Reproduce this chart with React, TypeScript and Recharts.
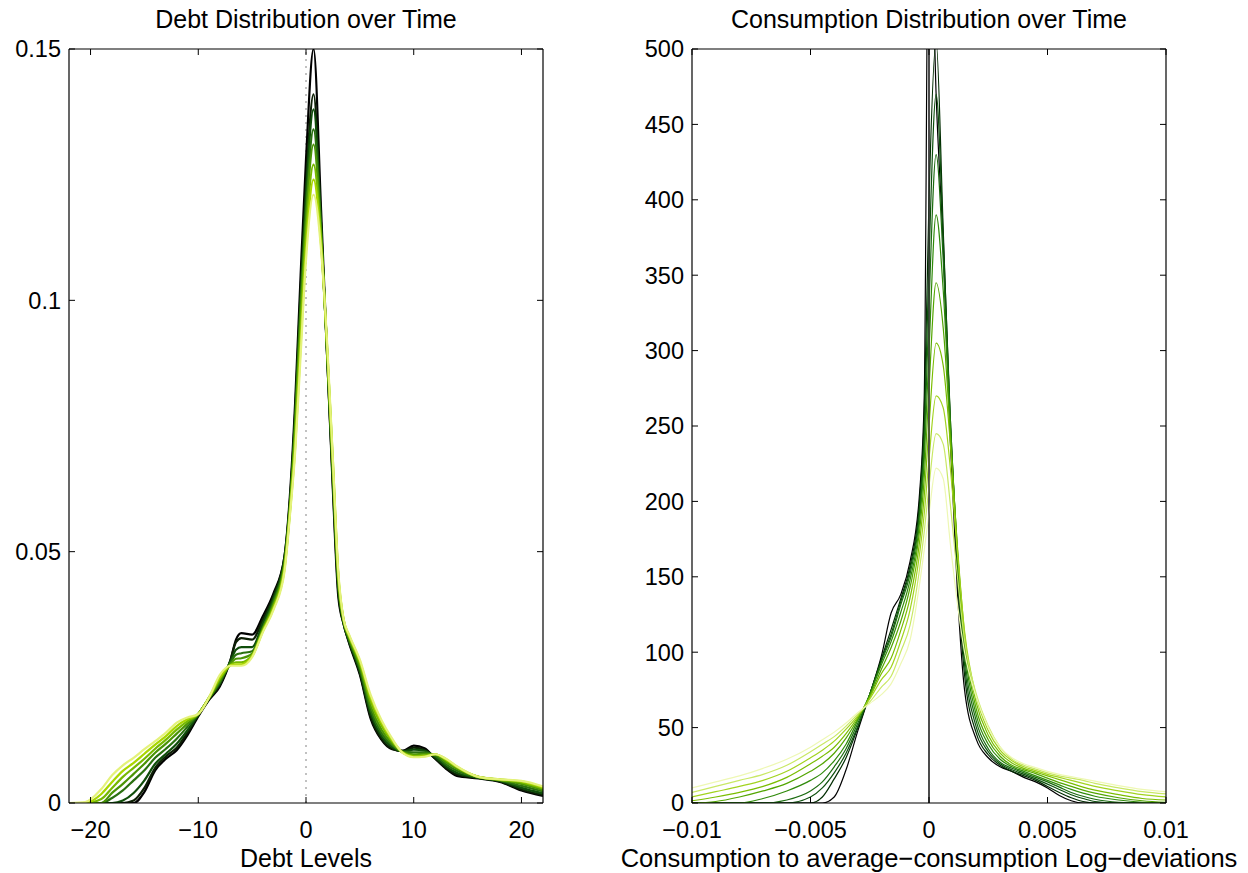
import React from 'react';
import { LineChart, Line, XAxis, YAxis, ReferenceLine } from 'recharts';

const FONT = '"Liberation Sans", Arial, Helvetica, sans-serif';

// ---------------- Debt panel data ----------------
const DEBT_X = [-22, -20.5, -19, -18, -17, -16, -15, -14, -13, -12, -11, -10, -9, -8, -7, -6.5, -6, -5, -4, -3, -2, -1.5, -1, -0.5, 0, 0.7, 1.4, 2, 2.5, 3, 3.5, 4, 5, 6, 7, 8, 9, 10, 11, 12, 13, 14, 16, 18, 20, 22];

const DEBT_T0 = [0, 0, 0, 0, 0, 0, 0.0022, 0.0065, 0.0088, 0.0105, 0.0135, 0.0172, 0.0205, 0.0232, 0.0285, 0.0325, 0.0338, 0.0335, 0.0372, 0.0418, 0.049, 0.061, 0.08, 0.105, 0.128, 0.150, 0.118, 0.087, 0.062, 0.041, 0.0355, 0.0318, 0.0255, 0.0168, 0.0126, 0.0107, 0.0104, 0.0114, 0.0109, 0.0088, 0.0068, 0.0054, 0.0049, 0.0042, 0.0025, 0.0014];
const DEBT_T1 = [0, 0, 0, 0, 0, 0.0005, 0.003, 0.007, 0.0093, 0.011, 0.014, 0.0175, 0.0207, 0.0235, 0.0285, 0.032, 0.0328, 0.0325, 0.0365, 0.0413, 0.049, 0.06, 0.078, 0.102, 0.123, 0.141, 0.115, 0.087, 0.063, 0.042, 0.0355, 0.032, 0.0258, 0.0172, 0.0128, 0.0108, 0.0103, 0.011, 0.0106, 0.0088, 0.007, 0.0057, 0.005, 0.0043, 0.0027, 0.0016];
const DEBT_T2 = [0, 0, 0, 0, 0.0005, 0.002, 0.0045, 0.0078, 0.0098, 0.0118, 0.0145, 0.0176, 0.0208, 0.0238, 0.0283, 0.0305, 0.031, 0.031, 0.0358, 0.0408, 0.0485, 0.0595, 0.077, 0.1, 0.121, 0.138, 0.115, 0.087, 0.064, 0.043, 0.0357, 0.0322, 0.0262, 0.0178, 0.0133, 0.0111, 0.0103, 0.0106, 0.0104, 0.0091, 0.0073, 0.006, 0.005, 0.0044, 0.003, 0.0019];
const DEBT_T3 = [0, 0, 0, 0.001, 0.0025, 0.0045, 0.0065, 0.009, 0.0108, 0.0128, 0.0152, 0.0177, 0.0208, 0.024, 0.028, 0.0295, 0.0298, 0.0302, 0.035, 0.0402, 0.048, 0.059, 0.076, 0.099, 0.118, 0.134, 0.114, 0.088, 0.065, 0.0435, 0.036, 0.0325, 0.0267, 0.0185, 0.0139, 0.0115, 0.0102, 0.0101, 0.0101, 0.0094, 0.0077, 0.0064, 0.0051, 0.0045, 0.0034, 0.0023];
const DEBT_T4 = [0, 0, 0, 0.002, 0.0038, 0.0058, 0.0078, 0.01, 0.0118, 0.0138, 0.0158, 0.0177, 0.0209, 0.0243, 0.0277, 0.0287, 0.0288, 0.0297, 0.0347, 0.0397, 0.0475, 0.0585, 0.075, 0.097, 0.116, 0.131, 0.113, 0.088, 0.066, 0.044, 0.0362, 0.0328, 0.0272, 0.0193, 0.0146, 0.0118, 0.0101, 0.0097, 0.0098, 0.0096, 0.0081, 0.0068, 0.0052, 0.0046, 0.0038, 0.0026];
const DEBT_T5 = [0, 0, 0.0008, 0.003, 0.0052, 0.007, 0.0088, 0.0108, 0.0126, 0.0146, 0.0163, 0.0177, 0.021, 0.0247, 0.0275, 0.028, 0.028, 0.0294, 0.0344, 0.0392, 0.047, 0.058, 0.073, 0.094, 0.113, 0.127, 0.112, 0.089, 0.067, 0.045, 0.0363, 0.0331, 0.0278, 0.0202, 0.0154, 0.0122, 0.01, 0.0094, 0.0095, 0.0097, 0.0085, 0.0071, 0.0052, 0.0046, 0.0041, 0.0029];
const DEBT_T6 = [0, 0, 0.0018, 0.0042, 0.0064, 0.008, 0.0098, 0.0116, 0.0133, 0.0153, 0.0167, 0.0177, 0.021, 0.025, 0.0274, 0.0276, 0.0276, 0.0292, 0.0342, 0.0388, 0.0465, 0.0575, 0.071, 0.091, 0.11, 0.124, 0.111, 0.089, 0.068, 0.0455, 0.0364, 0.0333, 0.0282, 0.021, 0.016, 0.0125, 0.01, 0.0092, 0.0093, 0.0097, 0.0087, 0.0072, 0.0052, 0.0047, 0.0043, 0.0031];
const DEBT_T7 = [0, 0.0002, 0.0028, 0.0055, 0.0075, 0.009, 0.0107, 0.0123, 0.014, 0.016, 0.017, 0.0177, 0.021, 0.0255, 0.0273, 0.0273, 0.0273, 0.029, 0.034, 0.0385, 0.046, 0.057, 0.07, 0.089, 0.108, 0.121, 0.11, 0.09, 0.068, 0.046, 0.0365, 0.0335, 0.0285, 0.0215, 0.0165, 0.0128, 0.0099, 0.0091, 0.0092, 0.0097, 0.0088, 0.0073, 0.0052, 0.0047, 0.0044, 0.0033];

const DEBT_SERIES = [DEBT_T0, DEBT_T1, DEBT_T2, DEBT_T3, DEBT_T4, DEBT_T5, DEBT_T6, DEBT_T7];
const DEBT_COLORS = ['#000000', '#0d1f05', '#0f4d0a', '#2a7010', '#4a9405', '#76b800', '#a9d600', '#e4f27a'];

const DEBT_X_TICKS = [-20, -10, 0, 10, 20];
const DEBT_X_LABELS = ['\u221220', '\u221210', '0', '10', '20'];
const DEBT_Y_TICKS = [0, 0.05, 0.1, 0.15];
const DEBT_Y_LABELS = ['0', '0.05', '0.1', '0.15'];

// ---------------- Consumption panel data ----------------
const CONS_X = [-0.01, -0.009, -0.008, -0.007, -0.006, -0.005, -0.0045, -0.004, -0.0035, -0.003, -0.0025, -0.002, -0.0016, -0.0012, -0.0008, -0.0004, -0.0002, 0, 0.0003, 0.0006, 0.0009, 0.0012, 0.0015, 0.002, 0.0025, 0.003, 0.0035, 0.004, 0.0045, 0.005, 0.0055, 0.006, 0.0065, 0.007, 0.008, 0.009, 0.01];

const CONS_T0 = [0, 0, 0, 0, 0, 0, 0, 4, 22, 48, 72, 98, 126, 138, 160, 205, 270, 640, 470, 370, 240, 140, 75, 42, 30, 24, 21, 17, 14, 10, 5, 1.5, 0, 0, 0, 0, 0];
const CONS_T1 = [0, 0, 0, 0, 0, 0, 4, 16, 30, 50, 72, 96, 115, 135, 157, 200, 258, 400, 505, 380, 250, 150, 85, 46, 32, 25, 21, 18, 15, 11, 7, 3.5, 1, 0, 0, 0, 0];
const CONS_T2 = [0, 0, 0, 0, 0, 4, 10, 20, 33, 51, 72, 95, 112, 133, 155, 195, 246, 360, 470, 375, 255, 155, 92, 50, 34, 26, 22, 19, 16, 12.5, 9, 5.5, 3, 1, 0, 0, 0];
const CONS_T3 = [0, 0, 0, 0, 2, 8, 14, 24, 36, 53, 72, 94, 110, 131, 152, 191, 236, 330, 430, 360, 255, 160, 98, 54, 36, 27, 23, 20, 17, 14, 10.5, 7, 4.5, 2.5, 0.5, 0, 0];
const CONS_T4 = [0, 0, 0, 3, 8, 15, 20, 28, 39, 55, 72, 92, 107, 126, 148, 186, 228, 300, 390, 340, 250, 165, 103, 58, 39, 29, 24, 21, 18, 15, 12, 9, 6.5, 4.5, 2, 0.5, 0];
const CONS_T5 = [0, 1, 4, 8, 13, 21, 26, 33, 43, 56, 71, 89, 103, 120, 143, 180, 216, 275, 345, 315, 245, 168, 108, 62, 42, 31, 25, 22, 19.5, 16.5, 13.5, 11, 8.5, 6.5, 3.5, 1.5, 0.5];
const CONS_T6 = [1.5, 4, 7, 11, 17, 26, 31, 37, 46, 57, 70, 86, 96, 114, 136, 173, 204, 250, 305, 290, 238, 170, 112, 66, 45, 33, 26.5, 23, 20.5, 18, 15.5, 13, 10.5, 8.5, 5.5, 3, 2];
const CONS_T7 = [4, 7.5, 11, 15, 21, 30, 35, 41, 49, 58, 69, 82, 90, 107, 128, 165, 192, 228, 270, 262, 222, 166, 114, 70, 48, 35, 28, 24, 21.5, 19, 17, 15, 13, 11, 8, 5.5, 4];
const CONS_T8 = [7, 11, 15, 19, 25, 34, 39, 44, 51, 59, 67, 77, 84, 100, 118, 155, 180, 210, 245, 238, 198, 150, 108, 72, 51, 37, 29, 25, 22.5, 20, 18, 16.5, 15, 13, 10, 7.5, 6];
const CONS_T9 = [10, 14, 18, 23, 29, 37, 42, 47, 53, 60, 66, 72, 79, 92, 108, 145, 168, 192, 222, 215, 172, 132, 100, 70, 50, 37, 30, 26, 23.5, 21, 19, 17.5, 16, 14.5, 11.5, 9, 7.5];

const CONS_SERIES = [CONS_T0, CONS_T1, CONS_T2, CONS_T3, CONS_T4, CONS_T5, CONS_T6, CONS_T7, CONS_T8, CONS_T9];
const CONS_COLORS = ['#000000', '#022d02', '#0c4f0c', '#1b6b10', '#2f8a0a', '#52a500', '#7abd00', '#a2d31f', '#c9e865', '#eef8b4'];

const CONS_X_TICKS = [-0.01, -0.005, 0, 0.005, 0.01];
const CONS_X_LABELS = ['\u22120.01', '\u22120.005', '0', '0.005', '0.01'];
const CONS_Y_TICKS = [0, 50, 100, 150, 200, 250, 300, 350, 400, 450, 500];
const CONS_Y_LABELS = ['0', '50', '100', '150', '200', '250', '300', '350', '400', '450', '500'];

// ---------------- helpers ----------------
const TICK_FONT = 23.5;
const TICK_LEN = 6;

const labelFor = (ticks: number[], labels: string[], v: number) => {
  const i = ticks.findIndex((t) => Math.abs(t - v) < 1e-9);
  return i >= 0 ? labels[i] : '';
};

const makeBottomTick = (ticks: number[], labels: string[]) => (p: any) => (
  <g>
    <line x1={p.x} y1={p.y} x2={p.x} y2={p.y - TICK_LEN} stroke="#000" strokeWidth={1} />
    <text x={p.x} y={p.y + 35} textAnchor="middle" fontSize={TICK_FONT} fontFamily={FONT} fill="#000">
      {labelFor(ticks, labels, p.payload.value)}
    </text>
  </g>
);

const makeLeftTick = (ticks: number[], labels: string[]) => (p: any) => (
  <g>
    <line x1={p.x} y1={p.y} x2={p.x + TICK_LEN} y2={p.y} stroke="#000" strokeWidth={1} />
    <text x={p.x - 8} y={p.y + 8.4} textAnchor="end" fontSize={TICK_FONT} fontFamily={FONT} fill="#000">
      {labelFor(ticks, labels, p.payload.value)}
    </text>
  </g>
);

const topTick = (p: any) => (
  <line x1={p.x} y1={p.y} x2={p.x} y2={p.y + TICK_LEN} stroke="#000" strokeWidth={1} />
);

const rightTick = (p: any) => (
  <line x1={p.x} y1={p.y} x2={p.x - TICK_LEN} y2={p.y} stroke="#000" strokeWidth={1} />
);

type PanelProps = {
  xs: number[];
  series: number[][];
  colors: string[];
  strokeWidth: number;
  xDomain: [number, number];
  yDomain: [number, number];
  xTicks: number[];
  xLabels: string[];
  yTicks: number[];
  yLabels: string[];
  width: number;
  marginLeft: number;
  marginRight: number;
  zeroStroke: string;
  zeroDash?: string;
  zeroWidth: number;
};

const AXIS_LINE = { stroke: '#000', strokeWidth: 1.2 };

function Panel(props: PanelProps) {
  const data = props.xs.map((x, i) => {
    const row: Record<string, number> = { x };
    props.series.forEach((s, k) => {
      row['s' + k] = s[i];
    });
    return row;
  });
  return (
    <LineChart
      width={props.width}
      height={873}
      data={data}
      margin={{ top: 48, left: props.marginLeft - 1, right: props.marginRight - 1, bottom: 69 }}
    >
      <XAxis
        dataKey="x"
        type="number"
        domain={props.xDomain}
        allowDataOverflow
        ticks={props.xTicks}
        interval={0}
        height={1}
        tickSize={0}
        tickMargin={0}
        tickLine={false}
        axisLine={AXIS_LINE}
        tick={makeBottomTick(props.xTicks, props.xLabels)}
      />
      <XAxis
        xAxisId="top"
        orientation="top"
        dataKey="x"
        type="number"
        domain={props.xDomain}
        allowDataOverflow
        ticks={props.xTicks}
        interval={0}
        height={1}
        tickSize={0}
        tickMargin={0}
        tickLine={false}
        axisLine={AXIS_LINE}
        tick={topTick}
      />
      <YAxis
        type="number"
        domain={props.yDomain}
        allowDataOverflow
        ticks={props.yTicks}
        interval={0}
        width={1}
        tickSize={0}
        tickMargin={0}
        tickLine={false}
        axisLine={AXIS_LINE}
        tick={makeLeftTick(props.yTicks, props.yLabels)}
      />
      <YAxis
        yAxisId="right"
        orientation="right"
        type="number"
        domain={props.yDomain}
        allowDataOverflow
        ticks={props.yTicks}
        interval={0}
        width={1}
        tickSize={0}
        tickMargin={0}
        tickLine={false}
        axisLine={AXIS_LINE}
        tick={rightTick}
      />
      <ReferenceLine
        x={0}
        stroke={props.zeroStroke}
        strokeWidth={props.zeroWidth}
        strokeDasharray={props.zeroDash}
        ifOverflow="hidden"
      />
      {props.series.map((_, k) => (
        <Line
          key={k}
          dataKey={'s' + k}
          type="monotone"
          stroke={props.colors[k]}
          strokeWidth={props.strokeWidth}
          dot={false}
          activeDot={false}
          isAnimationActive={false}
        />
      ))}
      {props.zeroDash ? null : (
        <ReferenceLine x={0} stroke={props.zeroStroke} strokeWidth={props.zeroWidth} ifOverflow="hidden" />
      )}
    </LineChart>
  );
}

export default function App() {
  return (
    <div
      style={{
        position: 'absolute',
        left: 0,
        top: 0,
        width: 1248,
        height: 873,
        background: '#fff',
        overflow: 'hidden',
      }}
    >
      <div style={{ position: 'absolute', left: 0, top: 0 }}>
        <Panel
          xs={DEBT_X}
          series={DEBT_SERIES}
          colors={DEBT_COLORS}
          strokeWidth={2.2}
          xDomain={[-22, 22]}
          yDomain={[0, 0.15]}
          xTicks={DEBT_X_TICKS}
          xLabels={DEBT_X_LABELS}
          yTicks={DEBT_Y_TICKS}
          yLabels={DEBT_Y_LABELS}
          width={600}
          marginLeft={69}
          marginRight={57}
          zeroStroke="#a0a0a0"
          zeroDash="2 5"
          zeroWidth={1.3}
        />
      </div>
      <div style={{ position: 'absolute', left: 600, top: 0 }}>
        <Panel
          xs={CONS_X}
          series={CONS_SERIES}
          colors={CONS_COLORS}
          strokeWidth={1.2}
          xDomain={[-0.01, 0.01]}
          yDomain={[0, 500]}
          xTicks={CONS_X_TICKS}
          xLabels={CONS_X_LABELS}
          yTicks={CONS_Y_TICKS}
          yLabels={CONS_Y_LABELS}
          width={648}
          marginLeft={92}
          marginRight={82}
          zeroStroke="#333333"
          zeroWidth={1.3}
        />
      </div>
      <svg
        width={1248}
        height={873}
        style={{ position: 'absolute', left: 0, top: 0, pointerEvents: 'none' }}
      >
        <text x={306} y={28} textAnchor="middle" fontSize={25} fontFamily={FONT} fill="#000">
          Debt Distribution over Time
        </text>
        <text x={929} y={28} textAnchor="middle" fontSize={25} fontFamily={FONT} fill="#000">
          Consumption Distribution over Time
        </text>
        <text x={306} y={867} textAnchor="middle" fontSize={25} fontFamily={FONT} fill="#000">
          Debt Levels
        </text>
        <text x={929} y={867} textAnchor="middle" fontSize={25.5} fontFamily={FONT} fill="#000">
          Consumption to average{'\u2212'}consumption Log{'\u2212'}deviations
        </text>
      </svg>
    </div>
  );
}
